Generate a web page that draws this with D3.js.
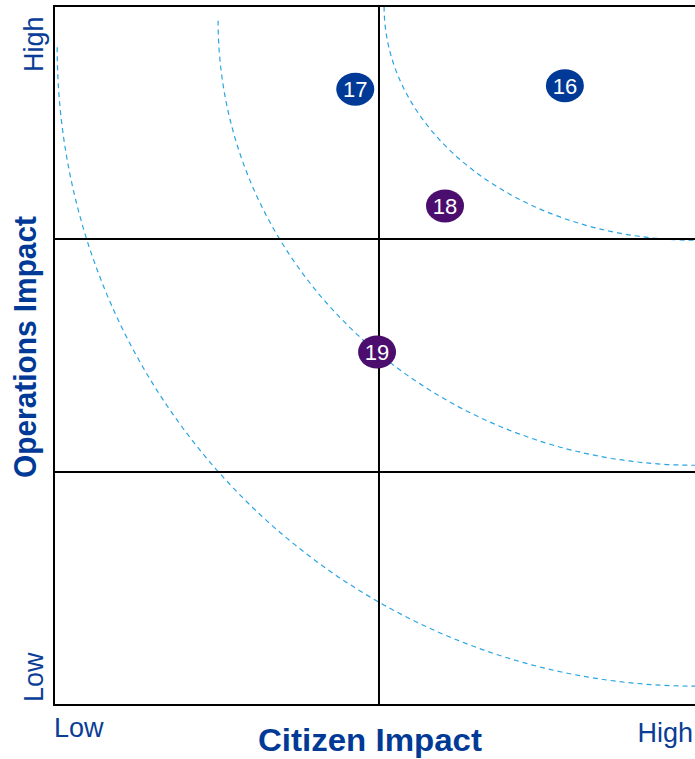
<!DOCTYPE html>
<html>
<head>
<meta charset="utf-8">
<script src="https://cdn.jsdelivr.net/npm/d3@7"></script>
<style>
  html, body { margin: 0; padding: 0; background: #fff; }
  svg { display: block; }
  text { font-family: "Liberation Sans", Arial, sans-serif; }
</style>
</head>
<body>
<div id="chart"></div>
<script>
// ---- data ----
const ids        = ["16", "17", "18", "19"];
const citizen    = [0.797, 0.470, 0.610, 0.504];
const operations = [0.886, 0.881, 0.714, 0.505];
const groups     = ["blue", "blue", "purple", "purple"];

const dividerX = [0.507];
const dividerY = [1 / 3, 2 / 3];

// guide curves: quarter ellipses from (startX, topY) down to (1, endY)
const curveStartX = [0.005, 0.256, 0.515];
const curveTopY   = [0.941, 0.979, 0.999];
const curveEndY   = [0.027, 0.343, 0.665];

const xTickLabels = ["Low", "High"];
const yTickLabels = ["Low", "High"];
const xTitle = "Citizen Impact";
const yTitle = "Operations Impact";

// ---- layout ----
const W = 695, H = 759;
const mLeft = 54, mRight = 695, mTop = 6, mBottom = 705;
const navy = "#003a96", purple = "#4b0e6f", labelColor = "#0a3d96";

const x = d3.scaleLinear().domain([0, 1]).range([mLeft, mRight]);
const y = d3.scaleLinear().domain([0, 1]).range([mBottom, mTop]);
const color = d3.scaleOrdinal().domain(["blue", "purple"]).range([navy, purple]);

const svg = d3.select("#chart").append("svg").attr("width", W).attr("height", H);

// guide curves
const curves = curveStartX.map((s, i) => ({ s, t: curveTopY[i], e: curveEndY[i] }));
svg.append("g").selectAll("path").data(curves).join("path")
  .attr("d", d => {
    const x0 = x(d.s), y0 = y(d.t), x1 = x(1), y1 = y(d.e);
    const rx = x1 - x0, ry = y1 - y0;
    return `M${x0},${y0} A${rx},${ry} 0 0 0 ${x1},${y1}`;
  })
  .attr("fill", "none")
  .attr("stroke", "#2aa5e2")
  .attr("stroke-width", 1.2)
  .attr("stroke-dasharray", "5,4");

// dividers
svg.append("g").selectAll("line").data(dividerY).join("line")
  .attr("x1", x(0)).attr("x2", x(1) + 2)
  .attr("y1", d => y(d)).attr("y2", d => y(d))
  .attr("stroke", "#000").attr("stroke-width", 1.8);
svg.append("g").selectAll("line").data(dividerX).join("line")
  .attr("x1", d => x(d)).attr("x2", d => x(d))
  .attr("y1", y(1)).attr("y2", y(0))
  .attr("stroke", "#000").attr("stroke-width", 2);

// frame (left, top, bottom)
svg.append("path")
  .attr("d", `M${x(1) + 2},${y(1)} H${x(0)} V${y(0)} H${x(1) + 2}`)
  .attr("fill", "none").attr("stroke", "#000").attr("stroke-width", 2);

// axis end labels
const xl = svg.append("g").attr("fill", labelColor).attr("font-size", 27);
xl.append("text").attr("x", x(0)).attr("y", 737).text(xTickLabels[0]);
xl.append("text").attr("x", x(1) - 2).attr("y", 742).attr("text-anchor", "end").text(xTickLabels[1]);

const yl = svg.append("g").attr("fill", labelColor).attr("font-size", 27);
yl.append("text").attr("transform", `translate(43,${y(0) - 3}) rotate(-90)`).text(yTickLabels[0]);
yl.append("text").attr("transform", `translate(43,${y(1) + 66}) rotate(-90)`).text(yTickLabels[1]);

// titles
svg.append("text")
  .attr("x", 370).attr("y", 751)
  .attr("text-anchor", "middle")
  .attr("font-size", 31).attr("font-weight", "bold")
  .attr("fill", navy)
  .attr("textLength", 224).attr("lengthAdjust", "spacingAndGlyphs")
  .text(xTitle);
svg.append("text")
  .attr("transform", `translate(36,347) rotate(-90)`)
  .attr("text-anchor", "middle")
  .attr("font-size", 31).attr("font-weight", "bold")
  .attr("fill", navy)
  .attr("textLength", 262).attr("lengthAdjust", "spacingAndGlyphs")
  .text(yTitle);

// bubbles
const pts = ids.map((id, i) => ({ id, cx: citizen[i], cy: operations[i], g: groups[i] }));
const b = svg.append("g").selectAll("g").data(pts).join("g")
  .attr("transform", d => `translate(${x(d.cx)},${y(d.cy)})`);
b.append("ellipse").attr("rx", 19).attr("ry", 16.5).attr("fill", d => color(d.g));
b.append("text")
  .attr("text-anchor", "middle").attr("dy", "0.36em")
  .attr("font-size", 22).attr("fill", "#fff")
  .text(d => d.id);
</script>
</body>
</html>
